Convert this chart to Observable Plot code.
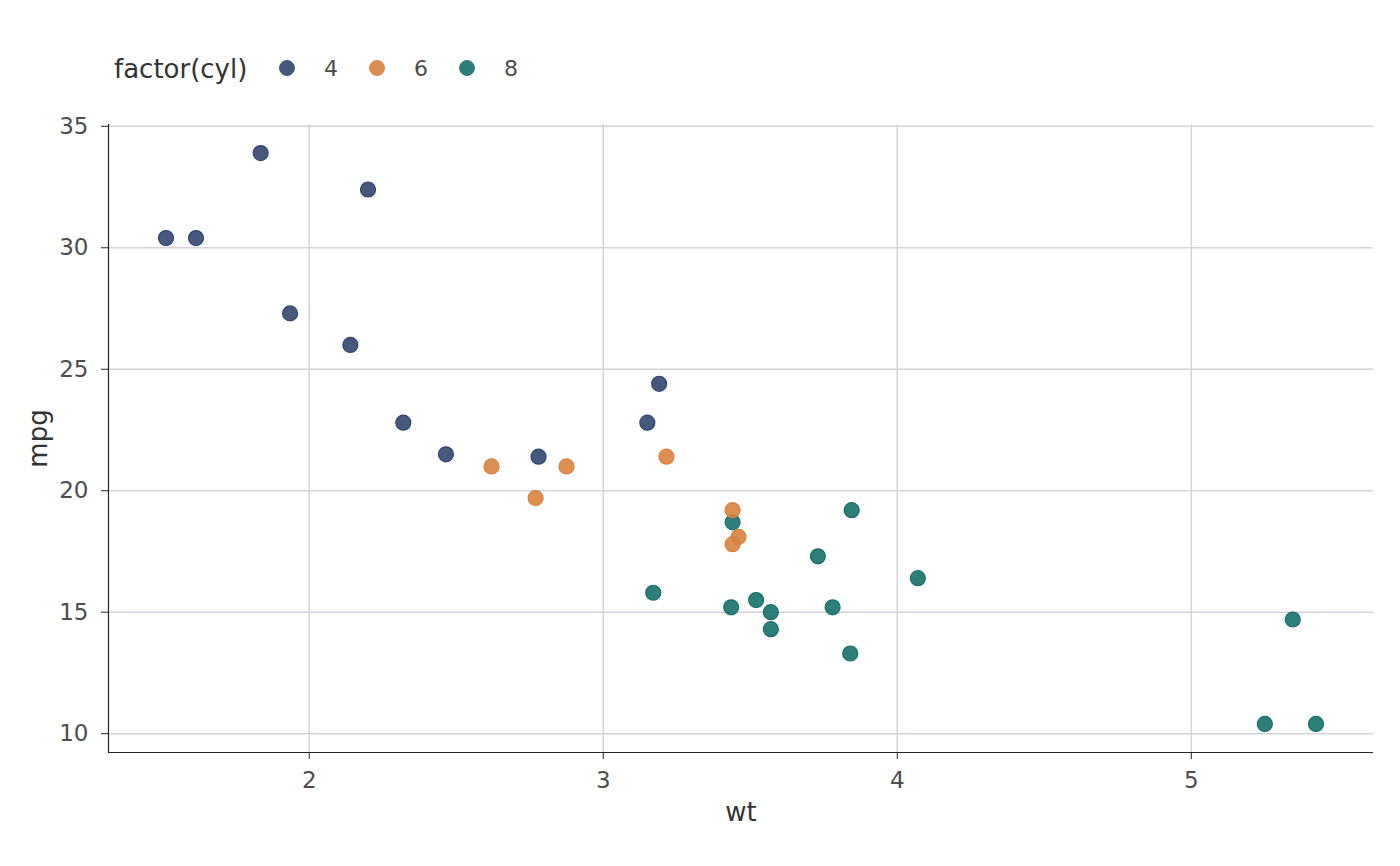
<!DOCTYPE html>
<html>
<head>
<meta charset="utf-8">
<script src="https://cdn.jsdelivr.net/npm/d3@7"></script>
<script src="https://cdn.jsdelivr.net/npm/@observablehq/plot@0.6"></script>
<style>
  html, body { margin: 0; padding: 0; background: #fff; }
  body { width: 1400px; height: 866px; overflow: hidden; font-family: "DejaVu Sans", sans-serif; }
  #legend { position: relative; height: 100px; }
  #legend .title { position: absolute; left: 114px; top: 54px; font-size: 26px; line-height: 30px; color: #333; }
  #legend .item { position: absolute; top: 54px; font-size: 22px; line-height: 30px; color: #4d4d4d; }
  #legend .sw { position: absolute; top: 60px; width: 14px; height: 14px; border-radius: 50%; border: 1.2px solid; }
</style>
</head>
<body>
<div id="legend"></div>
<div id="chart"></div>
<script>
const wt  = [2.620, 2.875, 2.320, 3.215, 3.440, 3.460, 3.570, 3.190, 3.150, 3.440, 3.440, 4.070, 3.730, 3.780, 5.250, 5.424, 5.345, 2.200, 1.615, 1.835, 2.465, 3.520, 3.435, 3.840, 3.845, 1.935, 2.140, 1.513, 3.170, 2.770, 3.570, 2.780];
const mpg = [21.0, 21.0, 22.8, 21.4, 18.7, 18.1, 14.3, 24.4, 22.8, 19.2, 17.8, 16.4, 17.3, 15.2, 10.4, 10.4, 14.7, 32.4, 30.4, 33.9, 21.5, 15.5, 15.2, 13.3, 19.2, 27.3, 26.0, 30.4, 15.8, 19.7, 15.0, 21.4];
const cyl = [6, 6, 4, 6, 8, 6, 8, 4, 4, 6, 6, 8, 8, 8, 8, 8, 8, 4, 4, 4, 4, 8, 8, 8, 8, 4, 4, 4, 8, 6, 8, 4];
const cylLevels = ["4", "6", "8"];
const cylColors = ["#32466f", "#d9823e", "#17706c"];
const xTicks = [2, 3, 4, 5];
const yTicks = [10, 15, 20, 25, 30, 35];

const data = wt.map((w, i) => ({wt: w, mpg: mpg[i], cyl: String(cyl[i])}));

// Legend (HTML, above the SVG)
const legend = document.getElementById("legend");
legend.innerHTML = `<span class="title">factor(cyl)</span>` +
  cylLevels.map((c, i) => {
    const sx = 287 + i * 90, lx = 324 + i * 90;
    return `<span class="sw" style="left:${sx - 8}px;background:${cylColors[i]};opacity:0.9;border-color:${cylColors[i]}"></span>` +
           `<span class="item" style="left:${lx}px">${c}</span>`;
  }).join("");

const wtExt = d3.extent(wt), mpgExt = d3.extent(mpg);
const xPad = (wtExt[1] - wtExt[0]) * 0.05, yPad = (mpgExt[1] - mpgExt[0]) * 0.05;

const chart = Plot.plot({
  width: 1400,
  height: 766,
  marginLeft: 108,
  marginRight: 27,
  marginTop: 24,
  marginBottom: 114,
  style: { fontFamily: "DejaVu Sans, sans-serif", fontSize: "23px", color: "#4d4d4d", background: "#fff" },
  x: { domain: [wtExt[0] - xPad, wtExt[1] + xPad], ticks: xTicks, label: null },
  y: { domain: [mpgExt[0] - yPad, mpgExt[1] + yPad], ticks: yTicks, label: null },
  color: { domain: cylLevels, range: cylColors },
  marks: [
    Plot.gridX(xTicks, { stroke: "#d1d4da", strokeOpacity: 1, strokeWidth: 1.5 }),
    Plot.gridY(yTicks, { stroke: "#d1d4da", strokeOpacity: 1, strokeWidth: 1.5 }),
    Plot.axisX(xTicks, { tickSize: 7, tickPadding: 12, fontSize: 23, fill: "#4d4d4d", stroke: "#222", tickFormat: d3.format("d"), label: null }),
    Plot.axisY(yTicks, { tickSize: 7, tickPadding: 13, fontSize: 23, fill: "#4d4d4d", stroke: "#222", tickFormat: d3.format("d"), label: null }),
    Plot.ruleX([wtExt[0] - xPad], { stroke: "#222", strokeWidth: 1.2 }),
    Plot.ruleY([mpgExt[0] - yPad], { stroke: "#222", strokeWidth: 1.2 }),
    Plot.dot(data, { x: "wt", y: "mpg", fill: "cyl", stroke: "cyl", r: 7.5, fillOpacity: 0.9, strokeOpacity: 1, strokeWidth: 1.2 }),
    Plot.text(["wt"], { frameAnchor: "bottom", dy: 68, text: d => d, fontSize: 26, fill: "#333" }),
    Plot.text(["mpg"], { frameAnchor: "left", dx: -70, rotate: -90, textAnchor: "middle", text: d => d, fontSize: 26, fill: "#333" })
  ]
});
document.getElementById("chart").appendChild(chart);
</script>
</body>
</html>
